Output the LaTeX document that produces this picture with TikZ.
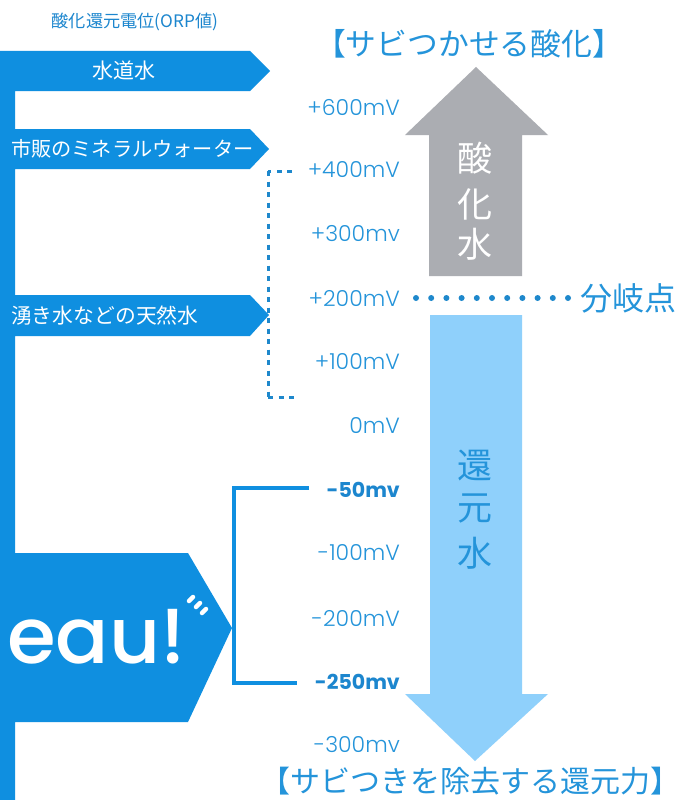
\documentclass[tikz,border=0pt]{standalone}
\usepackage{fontspec}
\setmainfont{Poppins}[UprightFont=* Light,BoldFont=* Bold]
\newfontfamily\cjk{Noto Sans CJK JP}
\newfontfamily\logofont{Poppins}[UprightFont=* Medium]
\definecolor{band}{HTML}{0F8FE0}
\definecolor{lab}{HTML}{2494DA}
\definecolor{labbold}{HTML}{1C86CE}
\definecolor{dotc}{HTML}{1E88CC}
\definecolor{grayarrow}{HTML}{ABADB2}
\definecolor{bluearrow}{HTML}{8FD0FB}
\tikzset{
  x=1pt,y=-1pt,
  bandfill/.style={fill=band,draw=none},
  volt/.style={anchor=east,inner sep=0pt,text=lab,font=\fontsize{22}{22}\selectfont},
  voltb/.style={anchor=east,inner sep=0pt,text=labbold,font=\fontsize{20.5}{20.5}\selectfont\bfseries},
  bandtext/.style={anchor=west,inner sep=0pt,text=white,font=\cjk\fontsize{20.2}{20.2}\selectfont},
  bigtext/.style={inner sep=0pt,text=lab,font=\cjk\fontsize{30.3}{30.3}\selectfont},
  colchar/.style={inner sep=0pt,font=\cjk\fontsize{35}{35}\selectfont},
  tick/.style={white,line width=4.5pt,line cap=round},
}
\begin{document}
\begin{tikzpicture}
\useasboundingbox (0,0) rectangle (677,800);
\fill[white] (0,0) rectangle (677,800);
% left spine with flags
\fill[bandfill] (0,51) -- (250,51) -- (270,71) -- (250,91) -- (15,91) -- (15,129)
  -- (250,129) -- (269,149) -- (250,169) -- (15,169) -- (15,295)
  -- (250,295) -- (269,315) -- (250,336) -- (15,336) -- (15,553)
  -- (188,553) -- (232,628) -- (188,722) -- (15,722) -- (15,800) -- (0,800) -- cycle;
% arrows
\fill[grayarrow] (476,67) -- (548,135) -- (522,135) -- (522,276) -- (429,276) -- (429,135) -- (405,135) -- cycle;
\fill[bluearrow] (430,315) -- (522,315) -- (522,694) -- (548,694) -- (475,761) -- (405,694) -- (430,694) -- cycle;
% texts
\node[inner sep=0pt,text=labbold,font=\cjk\fontsize{17.2}{17.2}\selectfont] (title) at (135,22) {酸化還元電位(ORP値)};
\node[inner sep=0pt,text=white,font=\cjk\fontsize{21}{21}\selectfont] (tap) at (124,71) {水道水};
\node[bandtext] (mineral) at (11,149) {市販のミネラルウォーター};
\node[bandtext,font=\cjk\fontsize{20.8}{20.8}\selectfont] (spring) at (11,316) {湧き水などの天然水};
\node[bigtext,font=\cjk\fontsize{30.8}{30.8}\selectfont] (oxhead) at (469,44) {【サビつかせる酸化】};
\node[bigtext,font=\cjk\fontsize{30}{30}\selectfont] (redhead) at (470,781) {【サビつきを除去する還元力】};
\node[inner sep=0pt,text=lab,font=\cjk\fontsize{32}{32}\selectfont,anchor=east] (branch) at (677,298) {分岐点};
\node[colchar,text=white] (sa) at (475,158) {酸};
\node[colchar,text=white] (ka) at (475,204) {化};
\node[colchar,text=white] (su) at (475,244) {水};
\node[colchar,text=lab] (kan) at (475,465) {還};
\node[colchar,text=lab] (gen) at (475,509) {元};
\node[colchar,text=lab] (sui) at (475,553) {水};
% voltage scale
\node[volt] (v600) at (400,107) {+600mV};
\node[volt] (v400) at (400,170) {+400mV};
\node[volt] (v300) at (400,234) {+300mv};
\node[volt] (v200) at (400,298) {+200mV};
\node[volt] (v100) at (400,362) {+100mV};
\node[volt] (v0) at (400,426) {0mV};
\node[voltb] (vm50) at (400,490) {-50mv};
\node[volt] (vm100) at (400,553) {-100mV};
\node[volt] (vm200) at (400,618) {-200mV};
\node[voltb] (vm250) at (400,682) {-250mv};
\node[volt] (vm300) at (400,745) {-300mv};
% logo
\node[inner sep=0pt,anchor=base west,text=white,font=\logofont\fontsize{78}{78}\selectfont] (logo) at (7,663) {\scalebox{1.01}[1]{eau!}};
\draw[tick] (189,601) -- (193,597);
\draw[tick] (196,607) -- (200,603);
\draw[tick] (202,613) -- (206,609);
% bracket
\coordinate (brtop) at (309,488);
\coordinate (brbot) at (297,683);
\draw[band,line width=4.5pt] (brtop) -- (234,488) -- (234,683) -- (brbot);
% dotted range
\coordinate (rtop) at (292,171);
\coordinate (rbot) at (298,397);
\draw[dotc,line width=3pt,dash pattern=on 5pt off 5.5pt] (rtop) -- (268,171);
\draw[dotc,line width=3pt,dash pattern=on 5pt off 5.5pt] (268,171) -- (268,397);
\draw[dotc,line width=3pt,dash pattern=on 5pt off 5.5pt] (268,397) -- (rbot);
% branch point dots
\coordinate (d0) at (416,298);
\coordinate (d1) at (569,298);
\draw[dotc,line width=6pt,line cap=round,dash pattern=on 0pt off 15.2pt] (d0) -- (d1);
\end{tikzpicture}
\end{document}
